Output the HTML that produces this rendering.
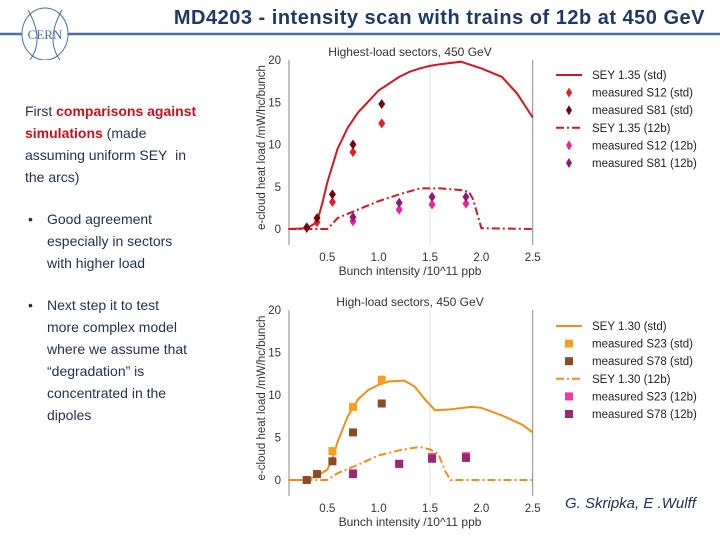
<!DOCTYPE html>
<html><head><meta charset="utf-8"><style>
body{margin:0;width:720px;height:540px;background:#fff;position:relative;overflow:hidden;font-family:"Liberation Sans",sans-serif}
.t{position:absolute;color:#1f3050;font-size:14px;line-height:22px;white-space:nowrap}
.red{color:#c0141c;font-weight:bold}
</style></head><body>
<svg width="720" height="60" style="position:absolute;left:0;top:0">
<line x1="0" y1="34" x2="22" y2="34" stroke="#4a6fa0" stroke-width="2.5"/>
<line x1="68" y1="34" x2="720" y2="34" stroke="#4a6fa0" stroke-width="2.5"/>
<ellipse cx="45" cy="34" rx="23" ry="26" fill="none" stroke="#4a6fa0" stroke-width="1"/>
<path d="M28 10 Q45 40 30 60 M62 10 Q45 40 60 60" fill="none" stroke="#4a6fa0" stroke-width="1"/>
<text x="45" y="39" text-anchor="middle" font-family="Liberation Serif" font-size="13" fill="#4a6fa0">CERN</text>
</svg>
<div style="position:absolute;left:168px;top:7px;font-size:20px;letter-spacing:0.5px;font-weight:bold;color:#1f3864;white-space:nowrap;width:537px;text-align:right">MD4203 - intensity scan with trains of 12b at 450 GeV</div>
<div class="t" style="left:25px;top:100px">First <span class="red">comparisons against</span><br><span class="red">simulations</span> (made<br>assuming uniform SEY&nbsp; in<br>the arcs)</div>
<div class="t" style="left:25px;top:208px"><span style="position:absolute;left:3px">•</span><div style="margin-left:22px">Good agreement<br>especially in sectors<br>with higher load</div></div>
<div class="t" style="left:25px;top:294px"><span style="position:absolute;left:3px">•</span><div style="margin-left:22px">Next step it to test<br>more complex model<br>where we assume that<br>“degradation” is<br>concentrated in the<br>dipoles</div></div>
<div style="position:absolute;left:565px;top:495px;font-size:15px;font-style:italic;color:#1f3050">G. Skripka, E .Wulff</div>
<svg id="c" width="720" height="540" style="position:absolute;left:0;top:0"></svg>
<script>
// top chart data
const top_std_x=[0.12,0.3,0.4,0.45,0.5,0.6,0.7,0.8,1.0,1.2,1.3,1.4,1.5,1.6,1.8,2.0,2.2,2.35,2.5];
const top_std_y=[0,0.1,0.8,3,5.5,9.5,12,13.8,16.4,18,18.6,19,19.3,19.5,19.8,19,18,16,13.2];
const top_12b_x=[0.12,0.5,0.55,0.6,0.8,1.0,1.2,1.4,1.6,1.8,1.88,1.92,2.0,2.5];
const top_12b_y=[0,0,0.6,1.3,2.3,3.3,4.1,4.8,4.8,4.6,4.4,3.5,0.1,0];
const s12std_x=[0.3,0.4,0.55,0.75,1.03], s12std_y=[0.1,0.8,3.2,9.1,12.5];
const s81std_x=[0.3,0.4,0.55,0.75,1.03], s81std_y=[0.2,1.3,4.1,10,14.8];
const s12b_x=[0.75,1.2,1.52,1.85], s12b_y=[0.9,2.3,2.9,3.0];
const s81b_x=[0.75,1.2,1.52,1.85], s81b_y=[1.4,3.1,3.8,3.8];
// bottom chart data
const bot_std_x=[0.12,0.3,0.4,0.5,0.55,0.6,0.7,0.8,0.9,1.0,1.1,1.25,1.35,1.45,1.55,1.7,1.9,2.0,2.2,2.4,2.5];
const bot_std_y=[0,0,0.5,1.2,2.5,4.5,7.5,9.5,10.6,11.2,11.6,11.7,11,9.5,8.2,8.3,8.6,8.5,7.6,6.5,5.6];
const bot_12b_x=[0.12,0.5,0.6,0.8,1.0,1.2,1.4,1.5,1.58,1.65,1.7,2.5];
const bot_12b_y=[0,0,0.8,1.8,2.9,3.5,3.9,3.6,3.1,1,0,0];
const s23std_x=[0.3,0.55,0.75,1.03], s23std_y=[0,3.4,8.6,11.8];
const s78std_x=[0.3,0.4,0.55,0.75,1.03], s78std_y=[0,0.7,2.2,5.6,9];
const s23b_x=[0.75,1.2,1.52,1.85], s23b_y=[0.8,1.9,2.7,2.8];
const s78b_x=[0.75,1.2,1.52,1.85], s78b_y=[0.7,1.9,2.5,2.6];
const xticks=[0.5,1.0,1.5,2.0,2.5], yticks=[0,5,10,15,20];
const NS='http://www.w3.org/2000/svg', svg=document.getElementById('c');
function el(t,a,txt){const e=document.createElementNS(NS,t);for(const k in a)e.setAttribute(k,a[k]);if(txt!=null)e.textContent=txt;svg.appendChild(e);return e;}
function chart(o){
 const X=v=>327.3+(v-0.5)*102.7, Y=v=>o.y0-v*(o.y0-o.y20)/20;
 const left=289,right=X(2.5),bot=o.bot;
 let e=el('line',{x1:X(1.5),y1:o.y20,x2:X(1.5),y2:bot,stroke:'#ddd'});
 
 e=el('line',{x1:left,y1:o.y20,x2:left,y2:bot,stroke:'#888'});
 
 e=el('line',{x1:right,y1:o.y20,x2:right,y2:bot,stroke:'#888'});
 
 xticks.forEach(v=>{e=el('text',{x:X(v),y:bot+16,'text-anchor':'middle','font-size':11.5,fill:'#333'},v.toFixed(1));
  });
 yticks.forEach(v=>{e=el('text',{x:281,y:Y(v)+4,'text-anchor':'end','font-size':11.5,fill:'#333'},v);
  });
 e=el('text',{x:(X(0.5)+X(2.5))/2-20,y:bot+30,'text-anchor':'middle','font-size':12,fill:'#333'},'Bunch intensity /10^11 ppb');
 
 e=el('text',{x:0,y:0,'text-anchor':'middle','font-size':11.5,fill:'#333',transform:`translate(265,${(o.y20+bot)/2-5}) rotate(-90)`},'e-cloud heat load /mW/hc/bunch');
 
 e=el('text',{x:410,y:o.y20-4,'text-anchor':'middle','font-size':12,fill:'#333'},o.title);
 
 const pts=(xs,ys)=>xs.map((x,i)=>X(x).toFixed(1)+','+Y(ys[i]).toFixed(1)).join(' ');
 e=el('polyline',{points:pts(o.sx,o.sy),fill:'none',stroke:o.lc,'stroke-width':2});
 
 e=el('polyline',{points:pts(o.bx,o.by),fill:'none',stroke:o.lc,'stroke-width':2,'stroke-dasharray':'8,3,2,3'});
 
 o.markers.forEach(m=>{m.x.forEach((x,i)=>{const cx=X(x),cy=Y(m.y[i]);
  if(o.shape==='d') e=el('polygon',{points:`${cx},${cy-5} ${cx+3.5},${cy} ${cx},${cy+5} ${cx-3.5},${cy}`,fill:m.c});
  else e=el('rect',{x:cx-4,y:cy-4,width:8,height:8,fill:m.c});
  });});
 const lx=556;
 o.leg.forEach((g,i)=>{const ly=o.ly0+i*17.6;
  if(g.t==='l') e=el('line',{x1:lx,y1:ly,x2:lx+26,y2:ly,stroke:o.lc,'stroke-width':2});
  else if(g.t==='dl') e=el('line',{x1:lx,y1:ly,x2:lx+26,y2:ly,stroke:o.lc,'stroke-width':2,'stroke-dasharray':'8,3,2,3'});
  else if(o.shape==='d') e=el('polygon',{points:`${lx+13},${ly-5} ${lx+16},${ly} ${lx+13},${ly+5} ${lx+10},${ly}`,fill:g.c});
  else e=el('rect',{x:lx+9,y:ly-4,width:8,height:8,fill:g.c});
  
  e=el('text',{x:592,y:ly+4,'font-size':11.5,fill:'#222'},g.s);
  });
}
chart({y0:229,y20:60,bot:245,title:'Highest-load sectors, 450 GeV',lc:'#cc1a24',shape:'d',
 sx:top_std_x,sy:top_std_y,bx:top_12b_x,by:top_12b_y,
 markers:[{x:s12std_x,y:s12std_y,c:'#e0202a',n:'s12-std'},{x:s81std_x,y:s81std_y,c:'#6a0a10',n:'s81-std'},{x:s12b_x,y:s12b_y,c:'#ee2290',n:'s12-12b'},{x:s81b_x,y:s81b_y,c:'#8a1a78',n:'s81-12b'}],
 ly0:75,leg:[{t:'l',s:'SEY 1.35 (std)'},{t:'m',c:'#e0202a',s:'measured S12 (std)'},{t:'m',c:'#6a0a10',s:'measured S81 (std)'},{t:'dl',s:'SEY 1.35 (12b)'},{t:'m',c:'#ee2290',s:'measured S12 (12b)'},{t:'m',c:'#8a1a78',s:'measured S81 (12b)'}]});
chart({y0:480,y20:310,bot:496,title:'High-load sectors, 450 GeV',lc:'#e8901e',shape:'s',
 sx:bot_std_x,sy:bot_std_y,bx:bot_12b_x,by:bot_12b_y,
 markers:[{x:s23std_x,y:s23std_y,c:'#f5a020',n:'s23-std'},{x:s78std_x,y:s78std_y,c:'#8b4a28',n:'s78-std'},{x:s23b_x,y:s23b_y,c:'#ee3aa0',n:'s23-12b'},{x:s78b_x,y:s78b_y,c:'#9a2a70',n:'s78-12b'}],
 ly0:326,leg:[{t:'l',s:'SEY 1.30 (std)'},{t:'m',c:'#f5a020',s:'measured S23 (std)'},{t:'m',c:'#8b4a28',s:'measured S78 (std)'},{t:'dl',s:'SEY 1.30 (12b)'},{t:'m',c:'#ee3aa0',s:'measured S23 (12b)'},{t:'m',c:'#9a2a70',s:'measured S78 (12b)'}]});
</script>
</body></html>
